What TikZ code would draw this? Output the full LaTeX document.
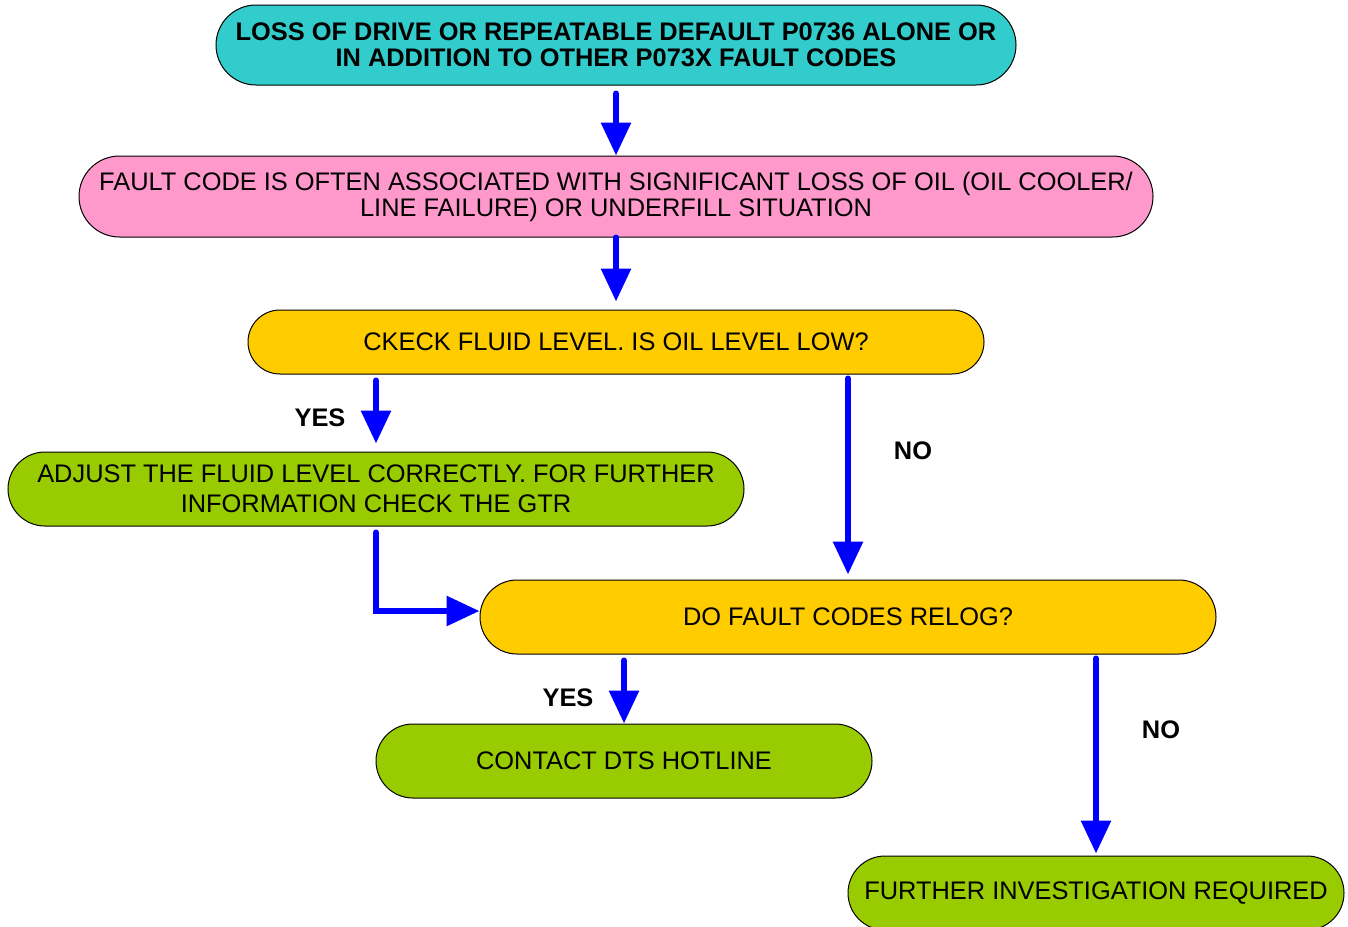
\documentclass[tikz,border=0pt]{standalone}
\usepackage{fontspec}
\setmainfont{Liberation Sans}
\usetikzlibrary{arrows.meta}
\definecolor{teal1}{HTML}{33CCCC}
\definecolor{pink1}{HTML}{FF99CC}
\definecolor{gold1}{HTML}{FFCC00}
\definecolor{lime1}{HTML}{99CC00}
\tikzset{
  box/.style = {draw=black, line width=0.5pt, align=center, inner sep=0pt, text centered, font=\fontsize{12.7}{13}\selectfont},
  startbox/.style = {box, fill=teal1, minimum width=400pt, minimum height=40pt, rounded corners=20pt, font=\fontsize{12.7}{13}\selectfont\bfseries},
  infobox/.style = {box, fill=pink1, minimum width=537pt, minimum height=40.5pt, rounded corners=20.25pt},
  askbox/.style = {box, fill=gold1, minimum width=368pt, rounded corners=#1},
  actbox/.style = {box, fill=lime1, minimum height=37pt, rounded corners=18.5pt},
  flow/.style = {draw=blue, line width=3pt, line cap=round, -{Triangle[width=14.5pt, length=16.5pt]}},
  answer/.style = {font=\fontsize{12.7}{13}\selectfont\bfseries},
}
\begin{document}
\begin{tikzpicture}[x=0.5pt, y=-0.5pt]
\useasboundingbox (0,0) rectangle (1348,926);
\node [startbox] (start) at (616,45) {LOSS OF DRIVE OR REPEATABLE DEFAULT P0736 ALONE OR\\IN ADDITION TO OTHER P073X FAULT CODES};
\node [infobox] (info) at (616,196.5) {FAULT CODE IS OFTEN ASSOCIATED WITH SIGNIFICANT LOSS OF OIL (OIL COOLER/\\LINE FAILURE) OR UNDERFILL SITUATION};
\node [askbox=16pt, minimum height=32pt] (level) at (616,342) {CKECK FLUID LEVEL. IS OIL LEVEL LOW?};
\node [actbox, minimum width=368pt, font=\fontsize{12.7}{15}\selectfont] (adjust) at (376,489) {ADJUST THE FLUID LEVEL CORRECTLY. FOR FURTHER\\INFORMATION CHECK THE GTR};
\node [askbox=18.5pt, minimum height=37pt] (relog) at (848,617) {DO FAULT CODES RELOG?};
\node [actbox, minimum width=248pt] (hotline) at (624,761) {CONTACT DTS HOTLINE};
\node [actbox, minimum width=248pt] (further) at (1096,893) {FURTHER INVESTIGATION REQUIRED};
% connectors
\draw [flow, shorten <=4pt] (start.south) -- (info.north);
\draw [flow, shorten >=4pt] (info.south) -- (level.north);
\draw [flow, shorten <=3pt, shorten >=4pt] (level.south -| adjust.north) -- (adjust.north);
\draw [flow, shorten <=2pt, shorten >=2.5pt] (level.south -| relog.north) -- (relog.north);
\coordinate (entry) at ([yshift=3pt]relog.west);
\draw [flow, shorten <=3pt] (adjust.south) -- (adjust.south |- entry) -- (entry);
\draw [flow, shorten <=3pt] (relog.south -| hotline.north) -- (hotline.north);
\draw [flow, shorten <=2pt, shorten >=1pt] (relog.south -| further.north) -- (further.north);
% answers
\node [answer] (yes1) at (320,418) {YES};
\node [answer] (no1) at (913,451) {NO};
\node [answer] (yes2) at (568,698) {YES};
\node [answer] (no2) at (1161,730) {NO};
\end{tikzpicture}
\end{document}
